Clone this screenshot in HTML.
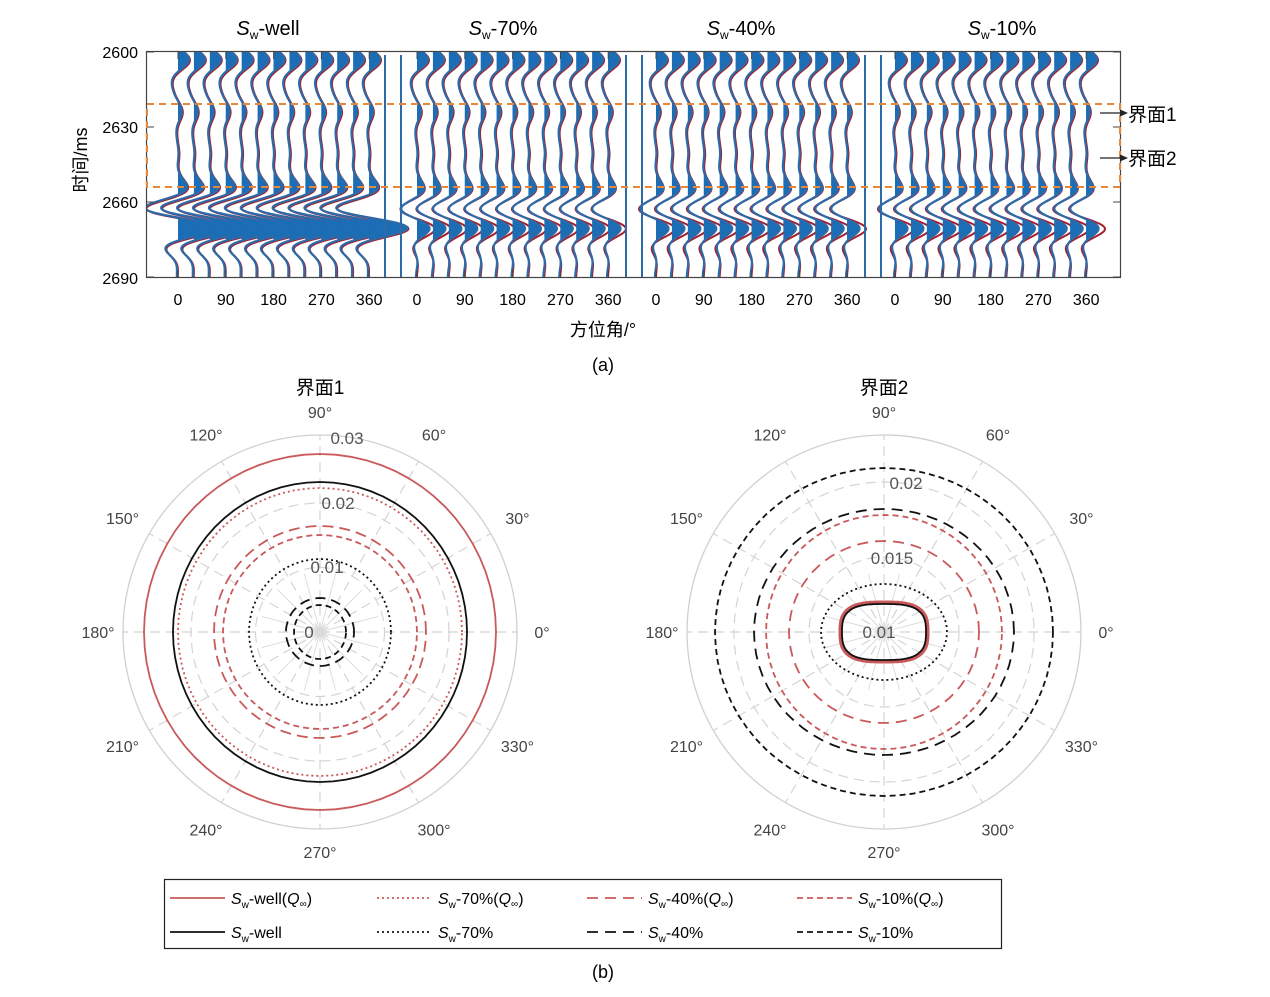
<!DOCTYPE html>
<html><head><meta charset="utf-8"><style>
body{margin:0;background:#fff;}
svg{display:block;font-family:"Liberation Sans","Noto Sans CJK SC",sans-serif;}
</style></head><body>
<svg id="s" width="1270" height="997" viewBox="0 0 1270 997" xmlns="http://www.w3.org/2000/svg">
<defs><clipPath id="ax"><rect x="147" y="52" width="973" height="225"/></clipPath></defs>
<rect width="1270" height="997" fill="#fff"/>
<g id="traces" clip-path="url(#ax)"></g>
<g id="rest"></g>
<text x="268" y="35" font-size="20" text-anchor="middle"><tspan font-style="italic">S</tspan><tspan font-size="12" dy="4">w</tspan><tspan dy="-4">-well</tspan></text>
<text x="503" y="35" font-size="20" text-anchor="middle"><tspan font-style="italic">S</tspan><tspan font-size="12" dy="4">w</tspan><tspan dy="-4">-70%</tspan></text>
<text x="741" y="35" font-size="20" text-anchor="middle"><tspan font-style="italic">S</tspan><tspan font-size="12" dy="4">w</tspan><tspan dy="-4">-40%</tspan></text>
<text x="1002" y="35" font-size="20" text-anchor="middle"><tspan font-style="italic">S</tspan><tspan font-size="12" dy="4">w</tspan><tspan dy="-4">-10%</tspan></text>
<g font-size="16" text-anchor="end">
<text x="138" y="58">2600</text><text x="138" y="133">2630</text><text x="138" y="208">2660</text><text x="138" y="284">2690</text>
</g>
<text transform="translate(87,160) rotate(-90)" font-size="18" text-anchor="middle">时间/ms</text>
<text x="603" y="336" font-size="18" text-anchor="middle">方位角/°</text>
<text x="603" y="371" font-size="18" text-anchor="middle">(a)</text>
<text x="1128" y="121" font-size="19">界面1</text>
<text x="1128" y="165" font-size="19">界面2</text>
<text x="320" y="394" font-size="19" text-anchor="middle">界面1</text>
<text x="884" y="394" font-size="19" text-anchor="middle">界面2</text>
<text x="603" y="978" font-size="18" text-anchor="middle">(b)</text>
</svg>
<script>
var NS="http://www.w3.org/2000/svg";
function el(p,n,a,t){var e=document.createElementNS(NS,n);for(var k in a)e.setAttribute(k,a[k]);if(t!=null)e.textContent=t;p.appendChild(e);return e;}
var tr=document.getElementById('traces'),rs=document.getElementById('rest');
function ty(t){return 52+(t-2600)*2.5;}
function ricker(tau){var f=45,a=Math.PI*f*tau/1000;a*=a;return (1-2*a)*Math.exp(-a);}
var base=[[2603,1.0],[2624,0.45],[2633,0.2],[2641,0.3],[2649,0.28],[2656,0.45],[2682,0.2]];
function amp(t,ev){var s=0;for(var i=0;i<ev.length;i++)s+=ev[i][1]*ricker(t-ev[i][0]);return s;}
var secs=[
 {blue:base.concat([[2663,-1.6],[2670,3.0]]),red:base.concat([[2663,-1.6],[2670,3.0]])},
 {blue:base.concat([[2663,-0.9],[2670,0.9]]),red:base.concat([[2663,-0.9],[2670,1.3]])},
 {blue:base.concat([[2663,-0.9],[2670,0.9]]),red:base.concat([[2663,-0.9],[2670,1.4]])},
 {blue:base.concat([[2663,-0.9],[2670,0.9]]),red:base.concat([[2663,-0.9],[2670,1.4]])}];
var S=11;
for(var s=0;s<4;s++){
 for(var k=0;k<13;k++){
  var x0=178+s*239+k*15.92;
  var ev=secs[s];
  var pl="",pr="",fill="M"+x0+","+ty(2598);
  for(var t=2598;t<=2692;t+=0.4){
   var ab=amp(t,ev.blue),ar=amp(t,ev.red);
   pl+=(x0+ab*S).toFixed(2)+","+ty(t).toFixed(2)+" ";
   pr+=(x0+ar*S+1).toFixed(2)+","+ty(t+0.3).toFixed(2)+" ";
   fill+=" L"+(x0+Math.max(ab,0)*S).toFixed(2)+","+ty(t).toFixed(2);
  }
  fill+=" L"+x0+","+ty(2692)+"Z";
  el(tr,"polyline",{points:pr,fill:"none",stroke:"#a3202f","stroke-width":2});
  el(tr,"path",{d:fill,fill:"#1b6db5"});
  el(tr,"polyline",{points:pl,fill:"none",stroke:"#2d6aa8","stroke-width":2.2});
 }
}
[385,401,626,642,865,881].forEach(function(x){el(tr,"line",{x1:x,y1:55,x2:x,y2:277,stroke:"#2d6aa8","stroke-width":2});});
el(rs,"rect",{x:146.5,y:51.5,width:974,height:226,fill:"none",stroke:"#444","stroke-width":1.2});
[2600,2630,2660,2690].forEach(function(t){var y=ty(t);el(rs,"line",{x1:147,y1:y,x2:154,y2:y,stroke:"#444"});el(rs,"line",{x1:1113,y1:y,x2:1120,y2:y,stroke:"#444"});});
var g=el(rs,"g",{"font-size":16,"text-anchor":"middle"});
for(var s=0;s<4;s++){for(var k=0;k<5;k++){var x=178+s*239+k*47.8;el(g,"text",{x:x,y:305},String(k*90));el(rs,"line",{x1:x,y1:277,x2:x,y2:270,stroke:"#444"});el(rs,"line",{x1:x,y1:52,x2:x,y2:59,stroke:"#444"});}}
el(rs,"rect",{x:147,y:104,width:973,height:83,fill:"none",stroke:"#e8873a","stroke-width":2,"stroke-dasharray":"7 5"});
[113,158].forEach(function(y){el(rs,"line",{x1:1100,y1:y,x2:1122,y2:y,stroke:"#222","stroke-width":1.2});el(rs,"path",{d:"M1128,"+y+" l-8,-3.5 v7z",fill:"#222"});});
function polar(cx,cy,rticks,labs,curves){
 el(rs,"circle",{cx:cx,cy:cy,r:197,fill:"none",stroke:"#d0d0d0","stroke-width":1.3});
 rticks.forEach(function(r){el(rs,"circle",{cx:cx,cy:cy,r:r,fill:"none",stroke:"#d4d4d4","stroke-width":1.2,"stroke-dasharray":"10 6"});});
 for(var a=0;a<360;a+=30){var c=Math.cos(a*Math.PI/180),sn=Math.sin(a*Math.PI/180);
  el(rs,"line",{x1:cx,y1:cy,x2:cx+197*c,y2:cy-197*sn,stroke:"#d4d4d4","stroke-width":1.2,"stroke-dasharray":"10 6"});
  var lr=228;if(a==0||a==180)lr=222;if(a==90||a==270)lr=220;
  el(rs,"text",{x:cx+lr*c,y:cy-lr*sn+6,"font-size":16,"text-anchor":"middle",fill:"#444"},a+"°");}
 for(var a=15;a<360;a+=30){var c=Math.cos(a*Math.PI/180),sn=Math.sin(a*Math.PI/180);
  el(rs,"line",{x1:cx,y1:cy,x2:cx+60*c,y2:cy-60*sn,stroke:"#dcdcdc","stroke-width":1});}
 labs.forEach(function(l){el(rs,"text",{x:cx+l[0],y:cy+l[1],"font-size":17,"text-anchor":"middle",fill:"#555"},l[2]);});
 curves.forEach(function(cv){var p="";for(var i=0;i<=72;i++){var th=i*5*Math.PI/180,c=Math.abs(Math.cos(th)),sn=Math.abs(Math.sin(th)),n=cv.n||2;
  var r=Math.pow(Math.pow(c/cv.a,n)+Math.pow(sn/cv.b,n),-1/n);p+=(cx+r*Math.cos(th)).toFixed(1)+","+(cy-r*Math.sin(th)).toFixed(1)+" ";}
  var at={points:p,fill:"none",stroke:cv.c,"stroke-width":cv.w||1.8};if(cv.d)at["stroke-dasharray"]=cv.d;el(rs,"polyline",at);});
}
var R="#c9595a",K="#111";
polar(320,632,[64.5,129],[[27,-188,"0.03"],[18,-123,"0.02"],[7,-59,"0.01"],[-11,6,"0"]],[
 {a:176,b:178,c:R},{a:147,b:150,c:K},{a:142,b:144,c:R,d:"2 3"},{a:106,b:106,c:R,d:"11 6"},{a:97,b:97,c:R,d:"6 4"},
 {a:71,b:73,c:K,d:"2 3"},{a:34,b:34,c:K,d:"10 6"},{a:26,b:27,c:K,d:"6 4"}]);
polar(884,632,[75,150],[[22,-143,"0.02"],[8,-68,"0.015"],[-5,6,"0.01"]],[
 {a:169,b:164,c:K,d:"6 4"},{a:130,b:123,c:K,d:"11 7"},{a:118,b:117,c:R,d:"6 4"},{a:95,b:91,c:R,d:"11 7"},
 {a:63,b:48,c:K,d:"2 3"},{a:44,b:30,n:3,c:R,w:3},{a:43,b:29,n:3,c:R,d:"2 3"},{a:42,b:28,n:3,c:K}]);
el(rs,"rect",{x:164.5,y:879.5,width:837,height:69,fill:"none",stroke:"#222","stroke-width":1.2});
var cols=[[170,231],[377,438],[587,648],[797,858]];
var row1=[[R,null,"-well(",1],[R,"2 3","-70%(",1],[R,"11 7","-40%(",1],[R,"6 4","-10%(",1]];
var row2=[[K,null,"-well",0],[K,"2 3","-70%",0],[K,"11 7","-40%",0],[K,"6 4","-10%",0]];
[row1,row2].forEach(function(row,ri){var y=ri?932:898;row.forEach(function(it,i){
 var a={x1:cols[i][0],y1:y,x2:cols[i][0]+55,y2:y,stroke:it[0],"stroke-width":1.8};if(it[1])a["stroke-dasharray"]=it[1];el(rs,"line",a);
 var t=el(rs,"text",{x:cols[i][1],y:y+6,"font-size":16});
 el(t,"tspan",{"font-style":"italic"},"S");el(t,"tspan",{"font-size":10,dy:4},"w");el(t,"tspan",{dy:-4},it[2]);
 if(it[3]){el(t,"tspan",{"font-style":"italic"},"Q");el(t,"tspan",{"font-size":10,dy:3},"∞");el(t,"tspan",{dy:-3},")");}
});});
</script>
</body></html>
